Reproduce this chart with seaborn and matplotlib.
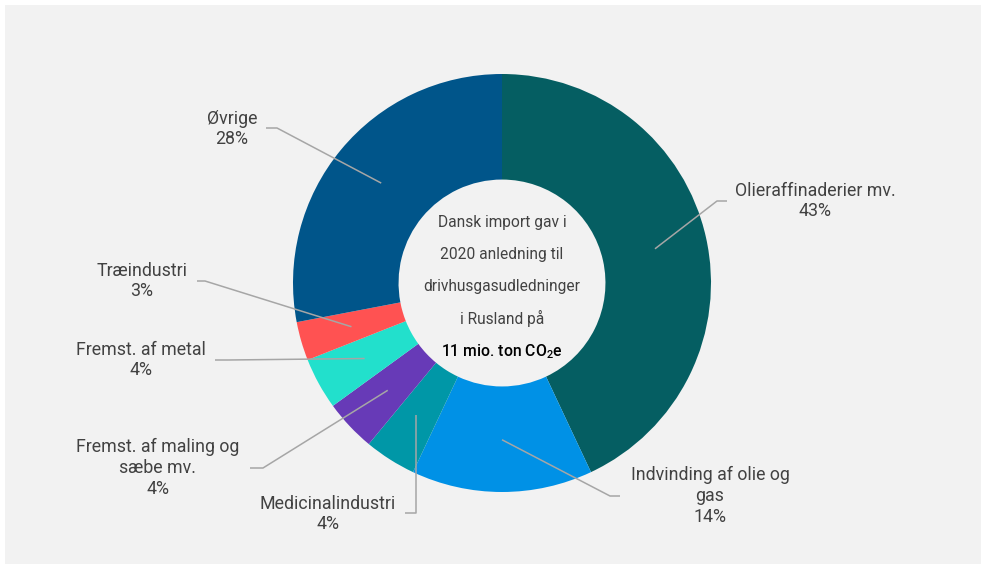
import numpy as np
import matplotlib
matplotlib.use("Agg")
import matplotlib.pyplot as plt
import seaborn as sns

# Sector shares of import-related emissions (percent)
sectors = [
    "Olieraffinaderier mv.",
    "Indvinding af olie og\ngas",
    "Medicinalindustri",
    "Fremst. af maling og\nsæbe mv.",
    "Fremst. af metal",
    "Træindustri",
    "Øvrige",
]
shares = [43, 14, 4, 4, 4, 3, 28]
colors = ["#055E62", "#0091E6", "#0097A7", "#673AB7", "#22E0CC", "#FF5252", "#00558A"]

center_lines = ["Dansk import gav i", "2020 anledning til", "drivhusgasudledninger", "i Rusland på"]
center_total = r"11 mio. ton CO$_2$e"

sns.set_theme(style="white")
plt.rcParams["font.family"] = ["Roboto", "DejaVu Sans"]
plt.rcParams["mathtext.fontset"] = "custom"
plt.rcParams["mathtext.rm"] = "Roboto:medium"
plt.rcParams["mathtext.it"] = "Roboto:medium"
plt.rcParams["mathtext.bf"] = "Roboto:bold"

W, H = 981, 564
CX, CY, R = 502, 283, 209
BG = "#F2F2F2"
TXT = "#424242"
LINE = "#A6A6A6"


def px(x, y):
    """Pixel coordinates (origin top-left) to data units of the donut."""
    return (x - CX) / R, -(y - CY) / R


fig = plt.figure(figsize=(W / 100, H / 100), dpi=100)
fig.patch.set_facecolor("white")
ax = fig.add_axes([0, 0, 1, 1])

wedges, _ = ax.pie(
    shares,
    colors=colors,
    startangle=90,
    counterclock=False,
    radius=1.0,
    wedgeprops=dict(width=0.505, linewidth=0),
    center=(0, 0),
    frame=True,
)
ax.set_xlim(-CX / R, (W - CX) / R)
ax.set_ylim(-(H - CY) / R, CY / R)
ax.set_aspect("auto")
ax.axis("off")

# grey panel with thin white margin on the top/left
x0, y1 = px(5, 5)
x1, y0 = px(W, H)
ax.add_patch(plt.Rectangle((x0, y0), x1 - x0, y1 - y0, facecolor=BG, edgecolor="none", zorder=0))

# leader-line layout: elbow point, line end, text centre (pixels)
layout = [
    ((717, 201), (727, 201), (815, 201)),
    ((610, 496), (620, 496), (710, 496)),
    ((416, 513), (405, 513), (328, 514)),
    ((263, 468), (250, 468), (158, 468)),
    ((228, 360), (215, 360), (141, 360)),
    ((205, 281), (197, 281), (142, 281)),
    ((277, 128), (266, 128), (232, 129)),
]

cum = np.cumsum([0] + shares[:-1])
for i, (name, val) in enumerate(zip(sectors, shares)):
    mid = 90 - (cum[i] + val / 2) / sum(shares) * 360
    sx, sy = 0.75 * np.cos(np.radians(mid)), 0.75 * np.sin(np.radians(mid))
    (ex, ey), (lx, ly), (tx, ty) = layout[i]
    ex, ey = px(ex, ey)
    lx, ly = px(lx, ly)
    if i == 2:
        sx = px(416, 0)[0]
        pts = [(sx, sy), (sx, ey), (lx, ly)]
    else:
        pts = [(sx, sy), (ex, ey), (lx, ly)]
    xs, ys = zip(*pts)
    ax.plot(xs, ys, color=LINE, lw=1.1, zorder=5, solid_capstyle="butt")
    tx, ty = px(tx, ty)
    ax.text(tx, ty, f"{name}\n{val}%", ha="center", va="center", fontsize=12.8,
            fontweight="normal", color=TXT, linespacing=1.2, zorder=6)

# centre text
for k, line in enumerate(center_lines):
    x, y = px(CX, 222 + 32 * k)
    ax.text(x, y, line, ha="center", va="center", fontsize=11.2,
            fontweight="normal", color=TXT, zorder=6)
x, y = px(CX, 352)
ax.text(x, y, center_total, ha="center", va="center", fontsize=11.3,
        fontweight="medium", color="black", zorder=6)

fig.savefig("out.png", dpi=100, facecolor=fig.get_facecolor())
